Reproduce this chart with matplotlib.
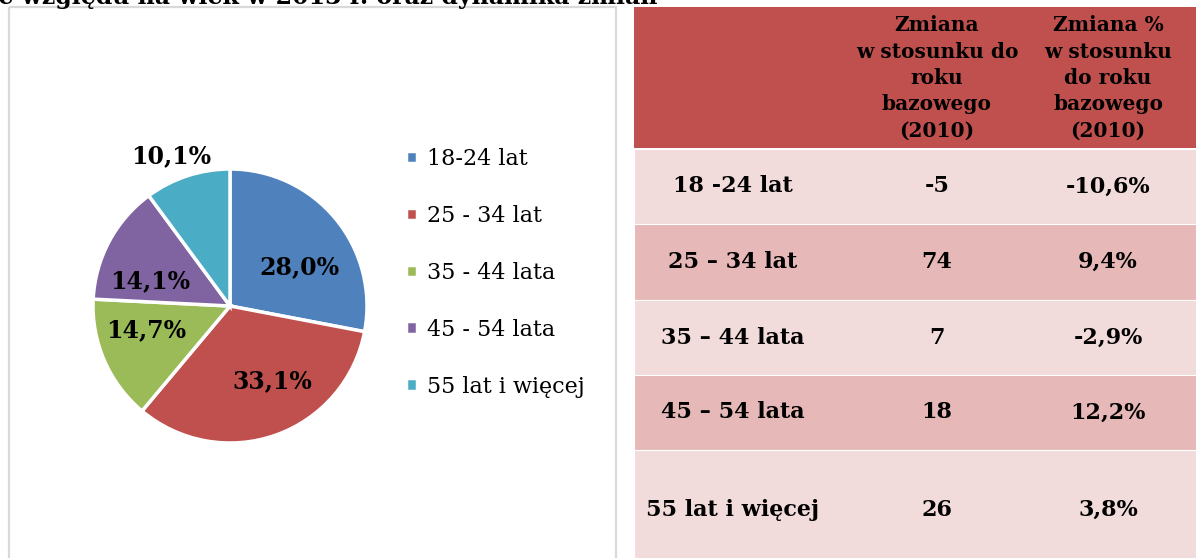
import matplotlib
matplotlib.use("Agg")
import matplotlib.pyplot as plt
from matplotlib.patches import Rectangle

# Data
age_groups = ["18-24 lat", "25 - 34 lat", "35 - 44 lata", "45 - 54 lata", "55 lat i więcej"]
shares = [28.0, 33.1, 14.7, 14.1, 10.1]
pie_colors = ["#4F81BD", "#C0504D", "#9BBB59", "#8064A2", "#4BACC6"]

row_labels = ["18 -24 lat", "25 – 34 lat", "35 – 44 lata", "45 – 54 lata", "55 lat i więcej"]
change_abs = ["-5", "74", "7", "18", "26"]
change_pct = ["-10,6%", "9,4%", "-2,9%", "12,2%", "3,8%"]
col_headers = ["Zmiana\nw stosunku do\nroku\nbazowego\n(2010)",
               "Zmiana %\nw stosunku\ndo roku\nbazowego\n(2010)"]
title = "ze względu na wiek w 2013 r. oraz dynamika zmian"

# label placement inside the pie (in pie radii), Excel-like
label_pos = [(0.51, 0.28), (0.31, -0.55), (-0.61, -0.18), (-0.58, 0.18), (-0.43, 1.09)]

W, H = 1196, 558
fig = plt.figure(figsize=(W / 100, H / 100), dpi=100)
serif = "DejaVu Serif"

# Background canvas in pixel coordinates
bg = fig.add_axes([0, 0, 1, 1])
bg.set_xlim(0, W)
bg.set_ylim(H, 0)
bg.axis("off")

# Cut-off title at the very top
bg.text(-15, 4, title, fontsize=17, fontweight="bold", family=serif,
        ha="left", va="baseline", color="black")

# Chart frame
bg.add_patch(Rectangle((9, 7), 607, 560, fill=False, edgecolor="#d9d9d9", lw=1.6))

# Table
tx0 = 634
row_tops = [149, 224, 300, 375, 450]
row_bottoms = [224, 300, 375, 450, 570]
row_fill = ["#F2DCDB", "#E6B8B7", "#F2DCDB", "#E6B8B7", "#F2DCDB"]
col_x = [733, 937, 1108]

bg.add_patch(Rectangle((tx0, 7), 600, 141, facecolor="#C0504D", edgecolor="none"))
for cx, hdr in zip(col_x[1:], col_headers):
    bg.text(cx, 78, hdr, fontsize=14.5, fontweight="bold", family=serif,
            ha="center", va="center", linespacing=1.4)

for i, (lab, a, p) in enumerate(zip(row_labels, change_abs, change_pct)):
    top, bot = row_tops[i], row_bottoms[i]
    bg.add_patch(Rectangle((tx0, top), 600, bot - top, facecolor=row_fill[i],
                           edgecolor="white", lw=0.8))
    yc = (top + bot) / 2 if i < 4 else 510
    for cx, s in zip(col_x, [lab, a, p]):
        bg.text(cx, yc, s, fontsize=16, fontweight="bold", family=serif,
                ha="center", va="center")

# Pie chart
cx, cy, r = 230, 306, 137
ax = fig.add_axes([(cx - r) / W, (H - cy - r) / H, 2 * r / W, 2 * r / H])
wedges, texts, autotexts = ax.pie(
    shares, colors=pie_colors, startangle=90, counterclock=False,
    autopct=lambda v: f"{v:.1f}%".replace(".", ","),
    wedgeprops=dict(edgecolor="white", linewidth=2.5),
    textprops=dict(fontsize=17, fontweight="bold", family=serif),
)
ax.set_xlim(-1, 1)
ax.set_ylim(-1, 1)
for t, pos in zip(autotexts, label_pos):
    t.set_position(pos)

# Legend
fig.legend(wedges, age_groups, loc="upper left",
           bbox_to_anchor=(386 / W, 1 - 128 / H), frameon=False,
           prop=dict(family=serif, size=16), labelspacing=1.57,
           handlelength=0.5, handleheight=0.5, handletextpad=0.45)

fig.savefig("out.png", dpi=100)
